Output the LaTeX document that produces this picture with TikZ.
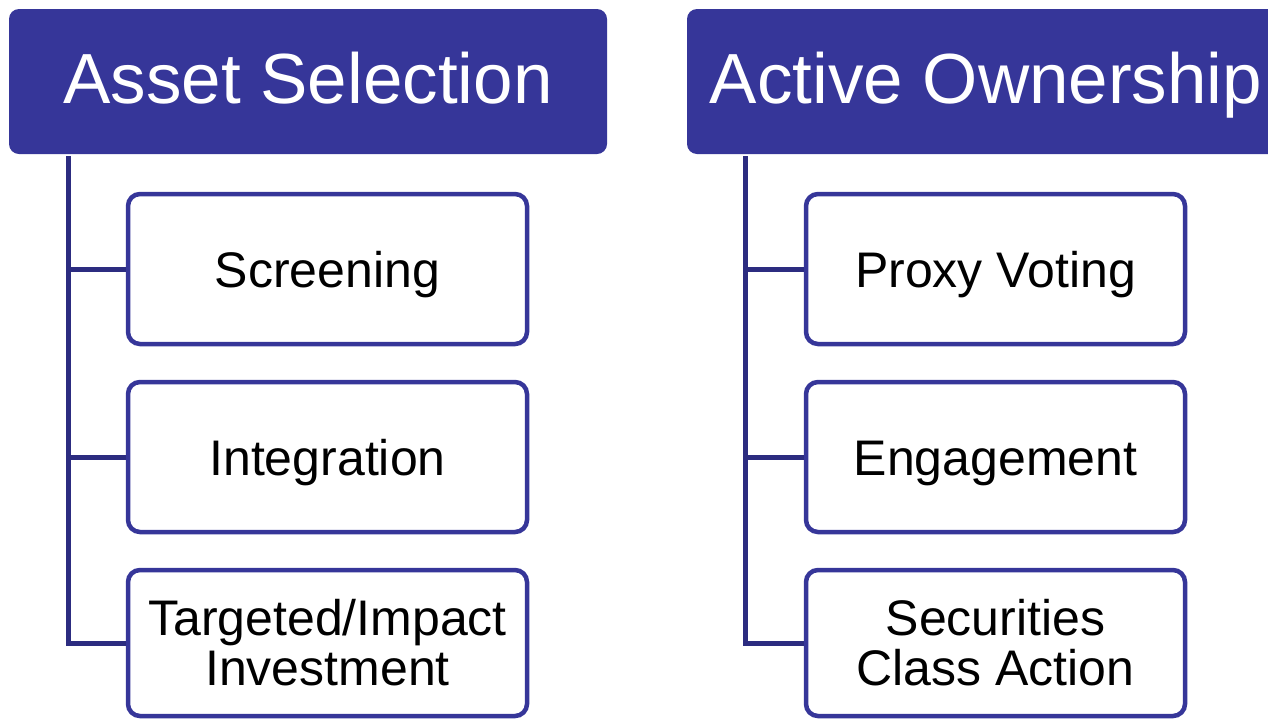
\documentclass[tikz,border=0pt]{standalone}
\usepackage{fontspec}
\setmainfont{Liberation Sans}
\definecolor{navy}{RGB}{54,54,153}
\definecolor{linenavy}{RGB}{44,44,128}
\begin{document}
\begin{tikzpicture}[x=1pt,y=-1pt,
  header/.style={fill=navy, rounded corners=10pt, minimum width=598pt, minimum height=145pt,
    text=white, font=\fontsize{71}{71}\selectfont, text height=51pt, text depth=8pt, inner sep=0pt},
  child/.style={draw=navy, line width=4.5pt, rounded corners=12pt, fill=white,
    minimum height=150pt, inner sep=0pt, font=\fontsize{50}{50}\selectfont, align=center},
  single/.style={text height=36pt, text depth=0pt},
  conn/.style={draw=linenavy, line width=5pt, line join=miter}]
\useasboundingbox (0,0) rectangle (1268,721);
\clip (0,0) rectangle (1268,721);

% headers
\node[header] (h1) at (308,81.5) {Asset Selection};
\node[header] (h2) at (986,81.5) {Active Ownership};

% left children
\node[child, single, minimum width=399pt] (s1) at (327.5,269) {Screening};
\node[child, single, minimum width=399pt] (s2) at (327.5,457) {Integration};
\node[child, minimum width=399pt, minimum height=146pt] (s3) at (327.5,643) {Targeted/Impact\\Investment};

% right children
\node[child, single, minimum width=379pt] (r1) at (995.5,269) {Proxy Voting};
\node[child, single, minimum width=379pt] (r2) at (995.5,457) {Engagement};
\node[child, minimum width=379pt, minimum height=146pt] (r3) at (995.5,643) {Securities\\Class Action};

% connectors
\coordinate (t1) at (68,156);
\coordinate (t2) at (745,156);
\draw[conn] (t1) |- (s3.west);
\draw[conn] (t1 |- s1.west) -- (s1.west);
\draw[conn] (t1 |- s2.west) -- (s2.west);
\draw[conn] (t2) |- (r3.west);
\draw[conn] (t2 |- r1.west) -- (r1.west);
\draw[conn] (t2 |- r2.west) -- (r2.west);
\end{tikzpicture}
\end{document}
